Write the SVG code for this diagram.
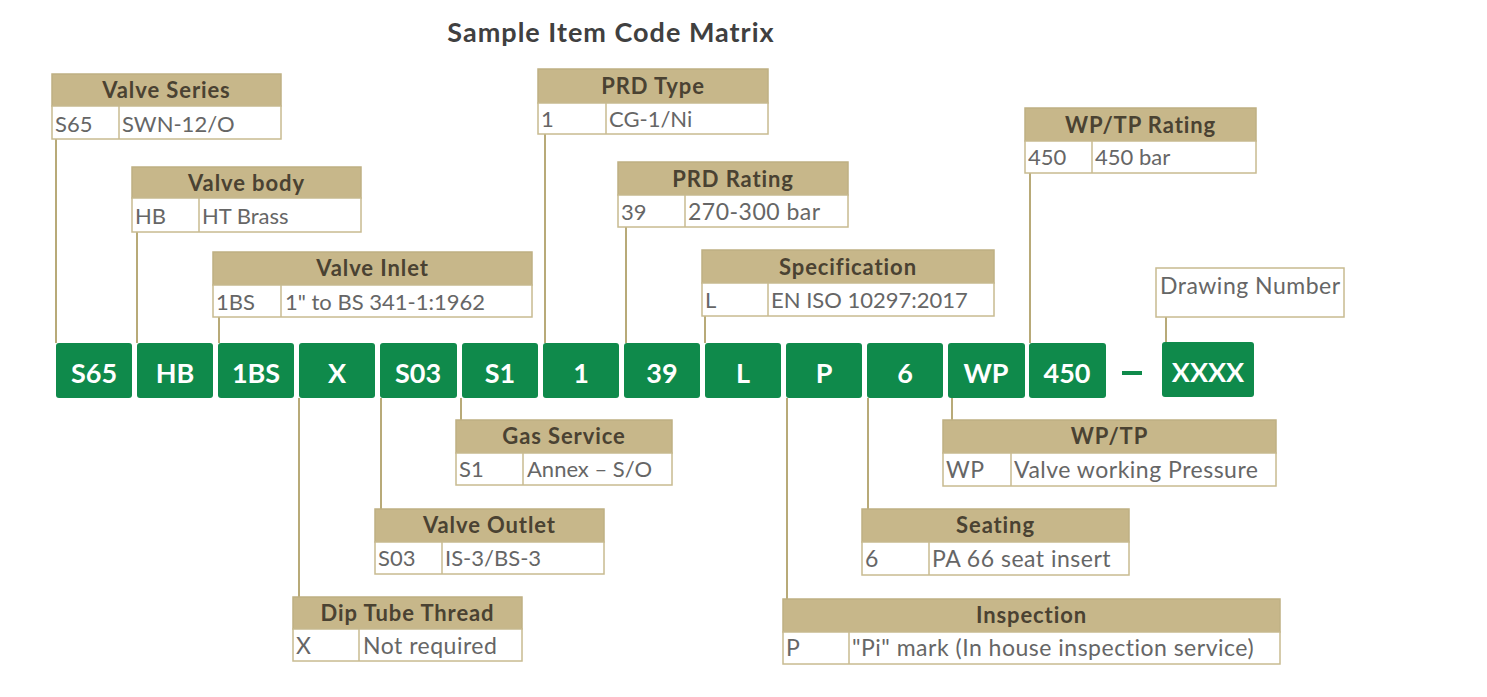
<svg xmlns="http://www.w3.org/2000/svg" width="1487" height="697" viewBox="0 0 1487 697">
<style>
.title{font-family:Lato,"Liberation Sans",sans-serif;font-weight:bold;font-size:27px;letter-spacing:1px;fill:#404040}
.hd{fill:#c7b78a;stroke:#bfb083;stroke-width:1.5}
.row{fill:#ffffff;stroke:#c8bb90;stroke-width:1.5}
.ht{font-family:Lato,"Liberation Sans",sans-serif;font-weight:bold;font-size:22px;letter-spacing:0.9px;fill:#4a4232;text-anchor:middle}
.rt{font-family:Lato,"Liberation Sans",sans-serif;font-size:22px;fill:#666666}
.rt2{font-family:Lato,"Liberation Sans",sans-serif;font-size:23px;letter-spacing:0.5px;fill:#666666}
.gb{fill:#0f8a4b}
.gt{font-family:Lato,"Liberation Sans",sans-serif;font-weight:bold;font-size:27px;fill:#ffffff;text-anchor:middle}
.ln{stroke:#b8aa78;stroke-width:2;fill:none}
</style>
<rect width="1487" height="697" fill="#ffffff"/>
<text class="title" x="611" y="42" text-anchor="middle">Sample Item Code Matrix</text>

<g id="connectors">
<line class="ln" x1="56" y1="139" x2="56" y2="343"/>
<line class="ln" x1="137" y1="232" x2="137" y2="343"/>
<line class="ln" x1="219" y1="317" x2="219" y2="343"/>
<line class="ln" x1="545" y1="134" x2="545" y2="343"/>
<line class="ln" x1="626" y1="227" x2="626" y2="343"/>
<line class="ln" x1="705" y1="316" x2="705" y2="343"/>
<line class="ln" x1="1030" y1="173" x2="1030" y2="343"/>
<line class="ln" x1="1166" y1="317" x2="1166" y2="342"/>
<line class="ln" x1="299" y1="398" x2="299" y2="597"/>
<line class="ln" x1="381" y1="398" x2="381" y2="509"/>
<line class="ln" x1="461" y1="398" x2="461" y2="420"/>
<line class="ln" x1="787" y1="398" x2="787" y2="599"/>
<line class="ln" x1="868" y1="398" x2="868" y2="509"/>
<line class="ln" x1="952" y1="398" x2="952" y2="420"/>
</g>

<g id="code">
<rect class="gb" x="56" y="343" width="76" height="55" rx="3"/><text class="gt" x="94" y="383">S65</text>
<rect class="gb" x="137" y="343" width="76" height="55" rx="3"/><text class="gt" x="175" y="383">HB</text>
<rect class="gb" x="218" y="343" width="76" height="55" rx="3"/><text class="gt" x="256" y="383">1BS</text>
<rect class="gb" x="299" y="343" width="76" height="55" rx="3"/><text class="gt" x="337" y="383">X</text>
<rect class="gb" x="380" y="343" width="77" height="55" rx="3"/><text class="gt" x="418" y="383">S03</text>
<rect class="gb" x="462" y="343" width="76" height="55" rx="3"/><text class="gt" x="500" y="383">S1</text>
<rect class="gb" x="543" y="343" width="76" height="55" rx="3"/><text class="gt" x="581" y="383">1</text>
<rect class="gb" x="624" y="343" width="76" height="55" rx="3"/><text class="gt" x="662" y="383">39</text>
<rect class="gb" x="705" y="343" width="76" height="55" rx="3"/><text class="gt" x="743" y="383">L</text>
<rect class="gb" x="786" y="343" width="76" height="55" rx="3"/><text class="gt" x="824" y="383">P</text>
<rect class="gb" x="867" y="343" width="76" height="55" rx="3"/><text class="gt" x="905" y="383">6</text>
<rect class="gb" x="948" y="343" width="77" height="55" rx="3"/><text class="gt" x="986" y="383">WP</text>
<rect class="gb" x="1029" y="343" width="77" height="55" rx="3"/><text class="gt" x="1067" y="383">450</text>
<rect x="1122" y="371" width="20" height="4" fill="#0f8a4b"/>
<rect class="gb" x="1162" y="342" width="92" height="55" rx="3"/><text class="gt" x="1208" y="382">XXXX</text>
</g>

<g id="valve-series">
<rect class="hd" x="52" y="74" width="229" height="32"/><text class="ht" x="166.5" y="98">Valve Series</text>
<rect class="row" x="52" y="106" width="229" height="33"/><line class="row" x1="119" y1="106" x2="119" y2="139"/>
<text class="rt" x="55" y="132">S65</text><text class="rt" x="122" y="132">SWN-12/O</text>
</g>
<g id="valve-body">
<rect class="hd" x="132" y="167" width="229" height="31"/><text class="ht" x="246.5" y="191">Valve body</text>
<rect class="row" x="132" y="198" width="229" height="34"/><line class="row" x1="199" y1="198" x2="199" y2="232"/>
<text class="rt" x="135" y="224">HB</text><text class="rt" x="202" y="224">HT Brass</text>
</g>
<g id="valve-inlet">
<rect class="hd" x="213" y="252" width="319" height="33"/><text class="ht" x="372.5" y="276">Valve Inlet</text>
<rect class="row" x="213" y="285" width="319" height="32"/><line class="row" x1="281" y1="285" x2="281" y2="317"/>
<text class="rt" x="216" y="310">1BS</text><text class="rt" x="285" y="310">1" to BS 341-1:1962</text>
</g>
<g id="prd-type">
<rect class="hd" x="538" y="69" width="230" height="34"/><text class="ht" x="653" y="94">PRD Type</text>
<rect class="row" x="538" y="103" width="230" height="31"/><line class="row" x1="606" y1="103" x2="606" y2="134"/>
<text class="rt" x="541" y="127">1</text><text class="rt" x="609" y="127">CG-1/Ni</text>
</g>
<g id="prd-rating">
<rect class="hd" x="618" y="162" width="230" height="33"/><text class="ht" x="733" y="187">PRD Rating</text>
<rect class="row" x="618" y="195" width="230" height="32"/><line class="row" x1="685" y1="195" x2="685" y2="227"/>
<text class="rt" x="621" y="220">39</text><text class="rt2" x="688" y="220">270-300 bar</text>
</g>
<g id="specification">
<rect class="hd" x="702" y="250" width="292" height="33"/><text class="ht" x="848" y="275">Specification</text>
<rect class="row" x="702" y="283" width="292" height="33"/><line class="row" x1="768" y1="283" x2="768" y2="316"/>
<text class="rt" x="705" y="308">L</text><text class="rt" x="771" y="308">EN ISO 10297:2017</text>
</g>
<g id="wptp-rating">
<rect class="hd" x="1025" y="108" width="231" height="33"/><text class="ht" x="1140.5" y="133">WP/TP Rating</text>
<rect class="row" x="1025" y="141" width="231" height="32"/><line class="row" x1="1092" y1="141" x2="1092" y2="173"/>
<text class="rt" x="1028" y="165">450</text><text class="rt" x="1095" y="165">450 bar</text>
</g>
<g id="drawing-number">
<rect class="row" x="1156" y="268" width="188" height="49"/>
<text class="rt2" x="1160" y="294">Drawing Number</text>
</g>
<g id="gas-service">
<rect class="hd" x="456" y="420" width="216" height="33"/><text class="ht" x="564" y="444">Gas Service</text>
<rect class="row" x="456" y="453" width="216" height="32"/><line class="row" x1="523" y1="453" x2="523" y2="485"/>
<text class="rt" x="459" y="477">S1</text><text class="rt" x="527" y="477">Annex – S/O</text>
</g>
<g id="valve-outlet">
<rect class="hd" x="375" y="509" width="229" height="33"/><text class="ht" x="489.5" y="533">Valve Outlet</text>
<rect class="row" x="375" y="542" width="229" height="32"/><line class="row" x1="442" y1="542" x2="442" y2="574"/>
<text class="rt" x="378" y="566">S03</text><text class="rt" x="445" y="566">IS-3/BS-3</text>
</g>
<g id="dip-tube">
<rect class="hd" x="293" y="597" width="229" height="32"/><text class="ht" x="407.5" y="621">Dip Tube Thread</text>
<rect class="row" x="293" y="629" width="229" height="32"/><line class="row" x1="359" y1="629" x2="359" y2="661"/>
<text class="rt2" x="296" y="654">X</text><text class="rt2" x="363" y="654">Not required</text>
</g>
<g id="wptp">
<rect class="hd" x="943" y="420" width="333" height="33"/><text class="ht" x="1109.5" y="444">WP/TP</text>
<rect class="row" x="943" y="453" width="333" height="33"/><line class="row" x1="1011" y1="453" x2="1011" y2="486"/>
<text class="rt2" x="946" y="478">WP</text><text class="rt2" x="1014" y="478">Valve working Pressure</text>
</g>
<g id="seating">
<rect class="hd" x="862" y="509" width="267" height="33"/><text class="ht" x="995.5" y="533">Seating</text>
<rect class="row" x="862" y="542" width="267" height="33"/><line class="row" x1="929" y1="542" x2="929" y2="575"/>
<text class="rt2" x="865" y="567">6</text><text class="rt2" x="932" y="567">PA 66 seat insert</text>
</g>
<g id="inspection">
<rect class="hd" x="783" y="599" width="497" height="33"/><text class="ht" x="1031.5" y="623">Inspection</text>
<rect class="row" x="783" y="632" width="497" height="32"/><line class="row" x1="849" y1="632" x2="849" y2="664"/>
<text class="rt2" x="786" y="656">P</text><text class="rt2" x="852" y="656">"Pi" mark (In house inspection service)</text>
</g>
</svg>
